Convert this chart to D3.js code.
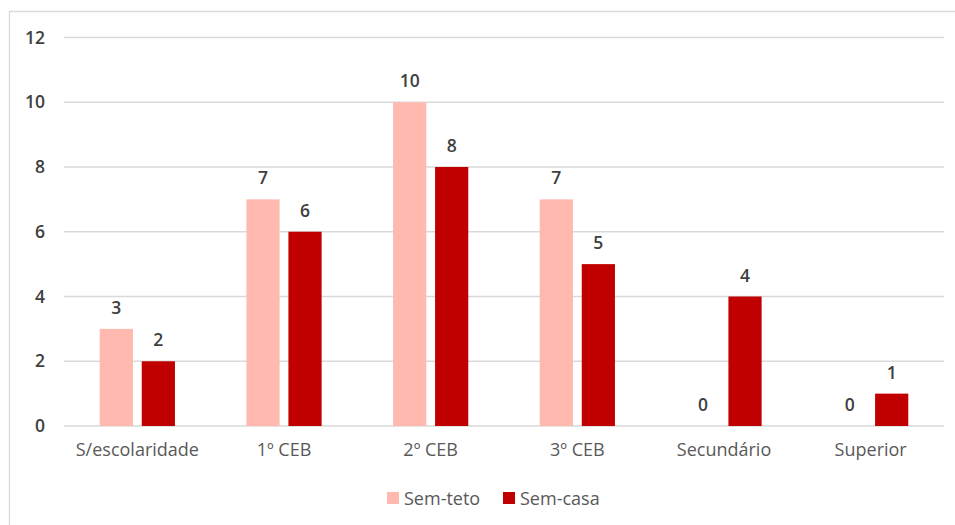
<!DOCTYPE html>
<html>
<head>
<meta charset="utf-8">
<script src="https://cdn.jsdelivr.net/npm/d3@7"></script>
<style>
    body { margin: 0; background: #fff; }
    svg text { font-family: "Open Sans", Lato, sans-serif; }
    .gridLines line { stroke: #d9d9d9; stroke-width: 1.3; }
    .yAxis text { fill: #404040; font-size: 17.5px; font-weight: 600; }
    .xAxis text { fill: #595959; font-size: 18px; }
    .barLabel { fill: #404040; font-size: 17.5px; font-weight: 600; }
    .legendText { fill: #595959; font-size: 18px; }
</style>
</head>
<body>
<script>
    var categories = ['S/escolaridade', '1º CEB', '2º CEB', '3º CEB', 'Secundário', 'Superior']; // Education levels
    var seriesNames = ['Sem-teto', 'Sem-casa'];
    var semTeto = [3, 7, 10, 7, 0, 0];
    var semCasa = [2, 6, 8, 5, 4, 1];
    var yTicks = [0, 2, 4, 6, 8, 10, 12];
    var colors = ['#ffb9ae', '#c00000'];

    // Chart frame dimensions
    var width = 955,
        height = 525,
        plotLeft = 64,
        plotRight = 944,
        plotTop = 37.5,
        plotBottom = 426;

    var svg = d3.select('body')
        .append('svg')
        .attr('width', width)
        .attr('height', height);

    // Outer frame (top and left edges visible)
    svg.append('path')
        .attr('d', 'M9.5,' + height + 'V11.5H' + width)
        .attr('fill', 'none')
        .attr('stroke', '#d9d9d9')
        .attr('stroke-width', 1.3);

    var yScale = d3.scaleLinear()
        .domain([0, 12])
        .range([plotBottom, plotTop]);

    var x0 = d3.scaleBand()
        .domain(categories)
        .range([plotLeft, plotRight]);

    var x1 = d3.scaleBand()
        .domain(seriesNames)
        .range([0, x0.bandwidth()])
        .paddingInner(0.21)
        .paddingOuter(0.85);

    // Horizontal gridlines
    svg.append('g')
        .attr('class', 'gridLines')
        .selectAll('line')
        .data(yTicks)
        .enter()
        .append('line')
        .attr('x1', plotLeft)
        .attr('x2', plotRight)
        .attr('y1', function (d) { return yScale(d); })
        .attr('y2', function (d) { return yScale(d); });

    // Y axis labels
    var yAxis = svg.append('g')
        .attr('class', 'yAxis')
        .attr('transform', 'translate(' + (plotLeft - 19) + ',0)')
        .call(d3.axisLeft(yScale).tickValues(yTicks).tickSize(0).tickPadding(0));
    yAxis.select('.domain').remove();

    // X axis labels
    var xAxis = svg.append('g')
        .attr('class', 'xAxis')
        .attr('transform', 'translate(0,' + (plotBottom + 17) + ')')
        .call(d3.axisBottom(x0).tickSize(0).tickPadding(0));
    xAxis.select('.domain').remove();
    xAxis.selectAll('text').attr('dy', '0.71em');

    // Build rows for grouped bars
    var rows = [];
    for (var i = 0; i < categories.length; i++) {
        rows.push({ cat: categories[i], series: seriesNames[0], value: semTeto[i] });
        rows.push({ cat: categories[i], series: seriesNames[1], value: semCasa[i] });
    }

    var color = d3.scaleOrdinal().domain(seriesNames).range(colors);

    svg.append('g')
        .selectAll('rect')
        .data(rows)
        .enter()
        .append('rect')
        .attr('x', function (d) { return x0(d.cat) + x1(d.series); })
        .attr('width', x1.bandwidth())
        .attr('y', function (d) { return yScale(d.value); })
        .attr('height', function (d) { return plotBottom - yScale(d.value); })
        .style('fill', function (d) { return color(d.series); });

    // Value labels
    svg.append('g')
        .selectAll('text')
        .data(rows)
        .enter()
        .append('text')
        .attr('class', 'barLabel')
        .attr('text-anchor', 'middle')
        .attr('x', function (d) { return x0(d.cat) + x1(d.series) + x1.bandwidth() / 2; })
        .attr('y', function (d) { return yScale(d.value) - 15; })
        .text(function (d) { return d.value; });

    // Legend
    var legendX = [387, 503];
    var legend = svg.append('g')
        .selectAll('g')
        .data(seriesNames)
        .enter()
        .append('g')
        .attr('transform', function (d, i) { return 'translate(' + legendX[i] + ',492)'; });

    legend.append('rect')
        .attr('width', 12)
        .attr('height', 12)
        .style('fill', function (d) { return color(d); });

    legend.append('text')
        .attr('class', 'legendText')
        .attr('x', 17)
        .attr('y', 13)
        .text(function (d) { return d; });
</script>
</body>
</html>
